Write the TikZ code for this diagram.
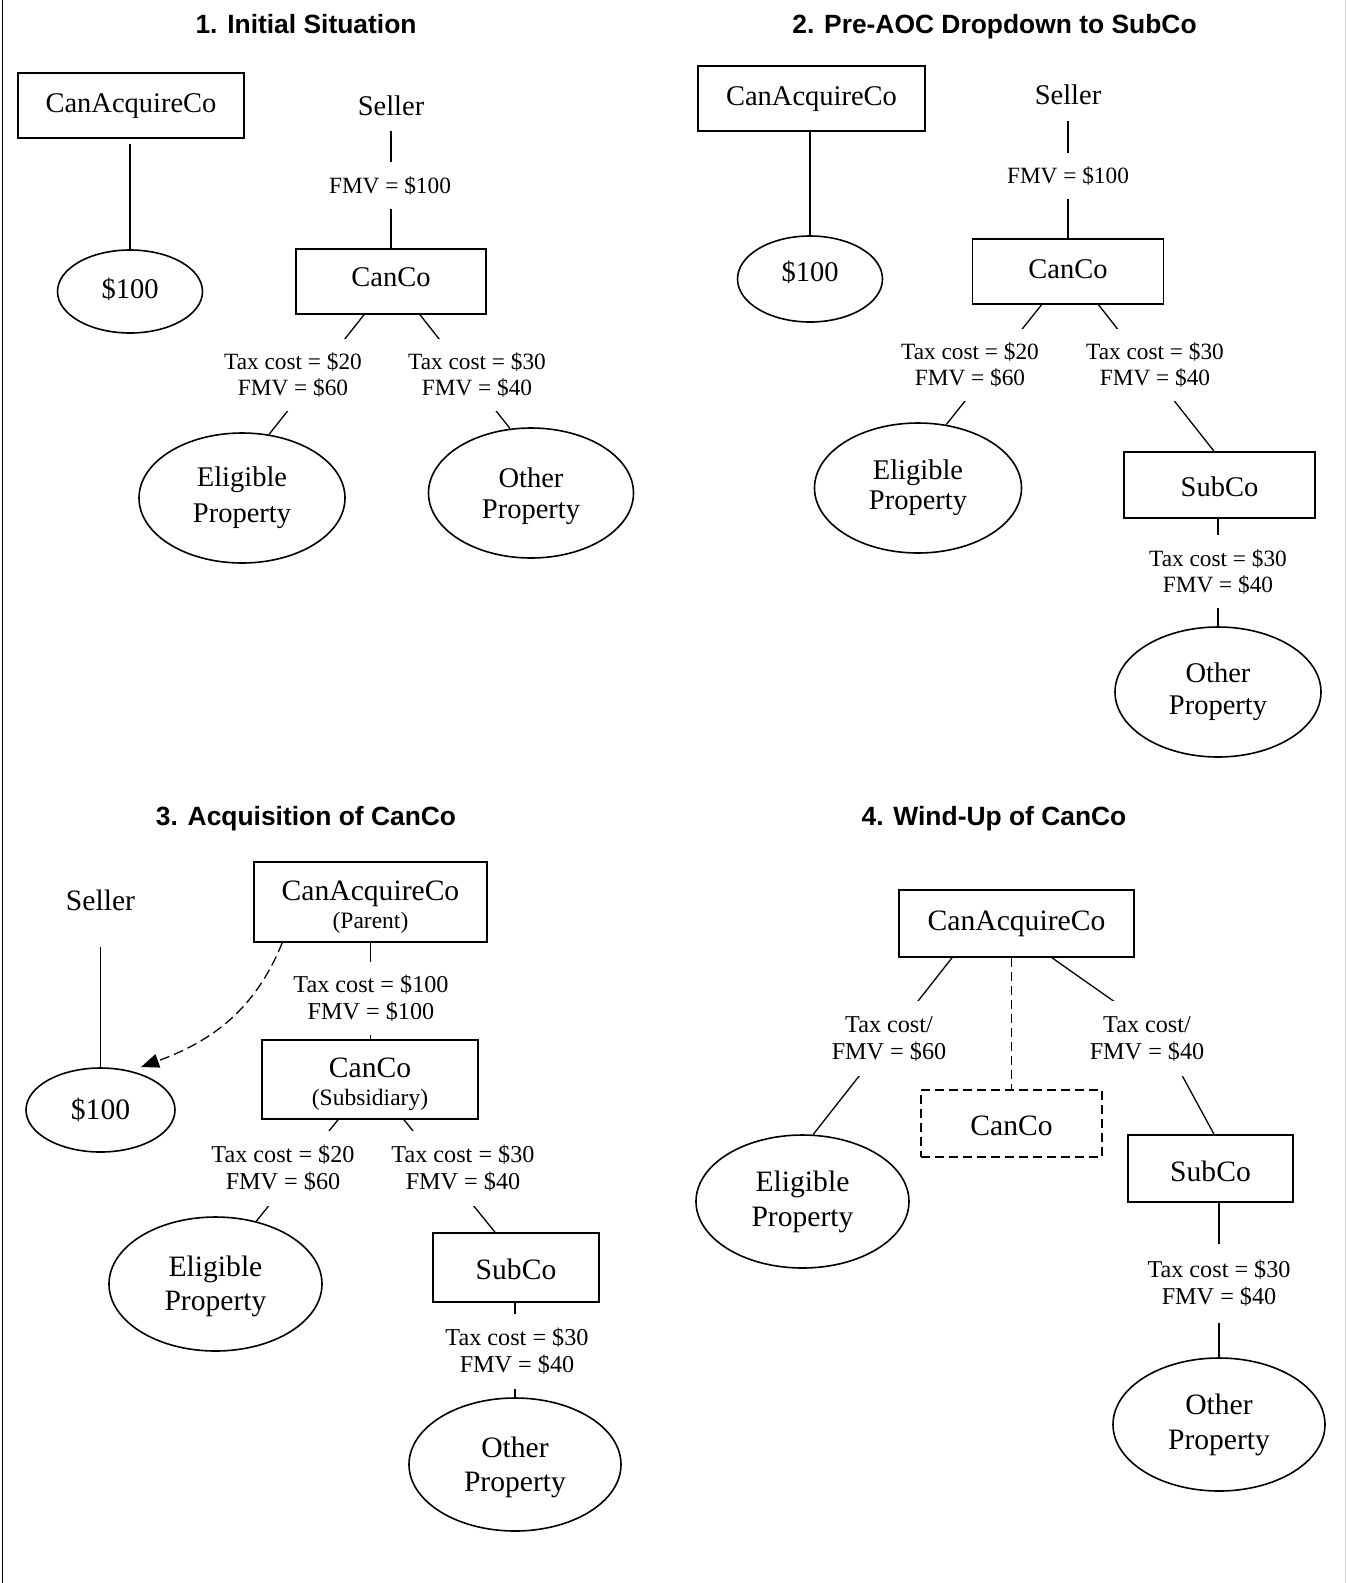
\documentclass[tikz,border=0pt]{standalone}
\usepackage{fontspec}
\setmainfont{Liberation Serif}
\newfontfamily\headfont{Liberation Sans}
\usetikzlibrary{shapes.geometric,arrows.meta,calc}

% type sizes: upper row (A) and lower row (B)
\newcommand\txtA{\fontsize{28.5}{31}\selectfont}
\newcommand\lblA{\fontsize{23.3}{26}\selectfont}
\newcommand\txtB{\fontsize{29.6}{34}\selectfont}
\newcommand\lblB{\fontsize{24.2}{27}\selectfont}
\newcommand\noteB{\fontsize{23.5}{28}\selectfont}

\begin{document}
\begin{tikzpicture}[x=1pt,y=-1pt,
  cobox/.style={draw, line width=1.6pt, inner sep=0pt, align=center},
  oneline/.style={text height=19.5pt, text depth=6pt},
  lowtext/.style={text height=29.5pt, text depth=6pt},
  valoval/.style={draw, ellipse, line width=1.6pt, inner sep=0pt, align=center},
  amt/.style={fill=white, inner xsep=3pt, inner ysep=14pt, align=center},
  holder/.style={anchor=base, inner xsep=0pt},
  conn/.style={line width=1.3pt},
  dashpat/.style={dash pattern=on 10pt off 5pt},
  ttl/.style={anchor=base, inner sep=0pt, font=\headfont\bfseries\fontsize{26.4}{30}\selectfont}]

\useasboundingbox (0,0) rectangle (1346,1583);
% page rules
\draw[line width=1.3pt] (2.5,0) -- (2.5,1583);
\draw[line width=1pt, gray!35] (1345.5,0) -- (1345.5,1583);

% ---------- 1. Initial Situation ----------
\node[ttl] (t1) at (306,33.4) {1. Initial Situation};
\node[cobox, oneline, font=\txtA, minimum width=226pt, minimum height=65pt] (ca1) at (131,105.5) {CanAcquireCo};
\node[valoval, font=\txtA, text depth=7pt, minimum width=145pt, minimum height=83pt] (d1) at (130,291.5) {\$100};
\node[holder, font=\txtA, inner ysep=16pt] (s1) at (391,115) {Seller};
\node[cobox, oneline, text depth=10pt, font=\txtA, minimum width=190pt, minimum height=65pt] (cc1) at (391,281.5) {CanCo};
\node[valoval, font=\fontsize{28.5}{36}\selectfont, minimum width=206pt, minimum height=130pt] (e1) at (242,498) {Eligible\\Property};
\node[valoval, font=\fontsize{28.5}{31}\selectfont, minimum width=205pt, minimum height=130pt] (o1) at (531,493) {Other\rule{0pt}{26pt}\\Property};

\draw[conn, shorten <=5pt] (d1.north |- ca1.south) -- (d1.north);
\draw[conn] (s1.south) -- (s1.south |- cc1.north);
\draw[conn] ([xshift=-27pt]cc1.south) -- (e1.67);
\draw[conn] ([xshift=29pt]cc1.south) -- (o1.108);

\node[amt, font=\lblA] (f1) at (390,185.5) {FMV = \$100};
\node[amt, font=\lblA] (l1a) at (293,375) {Tax cost = \$20\\FMV = \$60};
\node[amt, font=\lblA] (l1b) at (477,375) {Tax cost = \$30\\FMV = \$40};

% ---------- 2. Pre-AOC Dropdown to SubCo ----------
\node[ttl] (t2) at (994.5,33.4) {2. Pre-AOC Dropdown to SubCo};
\node[cobox, oneline, font=\txtA, minimum width=227pt, minimum height=65pt] (ca2) at (811.5,98.5) {CanAcquireCo};
\node[valoval, font=\txtA, text depth=15pt, minimum width=145pt, minimum height=86pt] (d2) at (810,279) {\$100};
\node[holder, font=\txtA, inner ysep=17pt] (s2) at (1068,104) {Seller};
\node[cobox, oneline, font=\txtA, minimum width=191pt, minimum height=65pt] (cc2) at (1068,271.5) {CanCo};
\node[valoval, font=\fontsize{28.5}{30}\selectfont, minimum width=207pt, minimum height=130pt] (e2) at (918,488) {Eligible\\Property};
\node[cobox, lowtext, font=\txtA, minimum width=191pt, minimum height=66pt] (sub2) at (1219.5,485) {SubCo};
\node[valoval, font=\fontsize{28.5}{32}\selectfont, minimum width=206pt, minimum height=130pt] (o2) at (1218,692) {Other\\Property};

\draw[conn] (d2.north |- ca2.south) -- (d2.north);
\draw[conn] (s2.south) -- (s2.south |- cc2.north);
\draw[conn] ([xshift=-26.5pt]cc2.south) -- (e2.66);
\draw[conn] ([xshift=30.5pt]cc2.south) -- ([xshift=-5.5pt]sub2.north);
\draw[conn] (o2.north |- sub2.south) -- (o2.north);

\node[amt, font=\lblA] (f2) at (1068,176) {FMV = \$100};
\node[amt, font=\lblA] (l2a) at (970,365) {Tax cost = \$20\\FMV = \$60};
\node[amt, font=\lblA] (l2b) at (1155,365) {Tax cost = \$30\\FMV = \$40};
\node[amt, font=\lblA] (l2c) at (1218,571.5) {Tax cost = \$30\\FMV = \$40};

% ---------- 3. Acquisition of CanCo ----------
\node[ttl] (t3) at (306,825.4) {3. Acquisition of CanCo};
\node[holder, font=\txtB, inner ysep=36pt] (s3) at (100.5,910) {Seller};
\node[valoval, font=\txtB, minimum width=149pt, minimum height=84pt] (d3) at (100.5,1110) {\$100};
\node[cobox, font=\fontsize{29.6}{28}\selectfont, minimum width=233pt, minimum height=80pt] (p3) at (370.5,902)
  {CanAcquireCo\rule{0pt}{29pt}\\{\noteB (Parent)}};
\node[cobox, font=\fontsize{29.6}{28}\selectfont, minimum width=216pt, minimum height=79pt] (cc3) at (370,1079.5)
  {CanCo\rule{0pt}{29pt}\\{\noteB (Subsidiary)}};
\node[valoval, font=\fontsize{29.6}{34}\selectfont, minimum width=213pt, minimum height=134pt] (e3) at (215.5,1284) {Eligible\rule{0pt}{26pt}\\Property};
\node[cobox, lowtext, font=\txtB, minimum width=166pt, minimum height=69pt] (sub3) at (516,1267.5) {SubCo};
\node[valoval, font=\fontsize{29.6}{34}\selectfont, minimum width=212pt, minimum height=133pt] (o3) at (515,1464.5) {Other\rule{0pt}{26pt}\\Property};

\draw[conn] (s3.south) -- (s3.south |- d3.north);
\draw[conn] (p3.south) -- (p3.south |- cc3.north);
\draw[conn] ([xshift=-32pt]cc3.south) -- (e3.57);
\draw[conn] ([xshift=34pt]cc3.south) -- ([xshift=-21pt]sub3.north);
\draw[conn] (o3.north |- sub3.south) -- (o3.north);
\draw[conn, dashpat, -{Triangle[length=18pt,width=14pt]}]
  ([xshift=29pt]p3.south west) to[out=-112,in=20] ($(d3.center)+(40.5,-43)$);

\node[amt, font=\lblB, inner ysep=13pt] (l3a) at (371,998.5) {Tax cost = \$100\\FMV = \$100};
\node[amt, font=\lblB] (l3b) at (283,1168.5) {Tax cost = \$20\\FMV = \$60};
\node[amt, font=\lblB] (l3c) at (463,1168.5) {Tax cost = \$30\\FMV = \$40};
\node[amt, font=\lblB] (l3d) at (517,1351.5) {Tax cost = \$30\\FMV = \$40};

% ---------- 4. Wind-Up of CanCo ----------
\node[ttl] (t4) at (994,825.4) {4. Wind-Up of CanCo};
\node[cobox, oneline, font=\txtB, minimum width=235pt, minimum height=67pt] (ca4) at (1016.5,923.5) {CanAcquireCo};
\node[cobox, lowtext, dash pattern=on 9pt off 5pt, font=\txtB, minimum width=181pt, minimum height=67pt] (cc4) at (1011.5,1123.5) {CanCo};
\node[valoval, font=\fontsize{29.6}{35}\selectfont, minimum width=213pt, minimum height=133pt] (e4) at (802.5,1201.5) {Eligible\\Property};
\node[cobox, lowtext, text height=31.5pt, font=\txtB, minimum width=165pt, minimum height=67pt] (sub4) at (1210.5,1168.5) {SubCo};
\node[valoval, font=\fontsize{29.6}{35}\selectfont, minimum width=212pt, minimum height=133pt] (o4) at (1219,1424.5) {Other\\Property};
\coordinate (bend4) at (1159,1033);

\draw[conn] ([xshift=-64.5pt]ca4.south) -- (e4.81);
\draw[conn] ([xshift=35.5pt]ca4.south) -- (bend4) -- ([xshift=3.5pt]sub4.north);
\draw[conn, dash pattern=on 9pt off 5pt] (cc4.north |- ca4.south) -- (cc4.north);
\draw[conn] (o4.north |- sub4.south) -- (o4.north);

\node[amt, font=\lblB, inner ysep=15pt] (l4a) at (889,1038.5) {Tax cost/\\FMV = \$60};
\node[amt, font=\lblB, inner ysep=15pt] (l4b) at (1147,1038.5) {Tax cost/\\FMV = \$40};
\node[amt, font=\lblB, inner ysep=16pt] (l4c) at (1219,1283.5) {Tax cost = \$30\\FMV = \$40};
\end{tikzpicture}
\end{document}
